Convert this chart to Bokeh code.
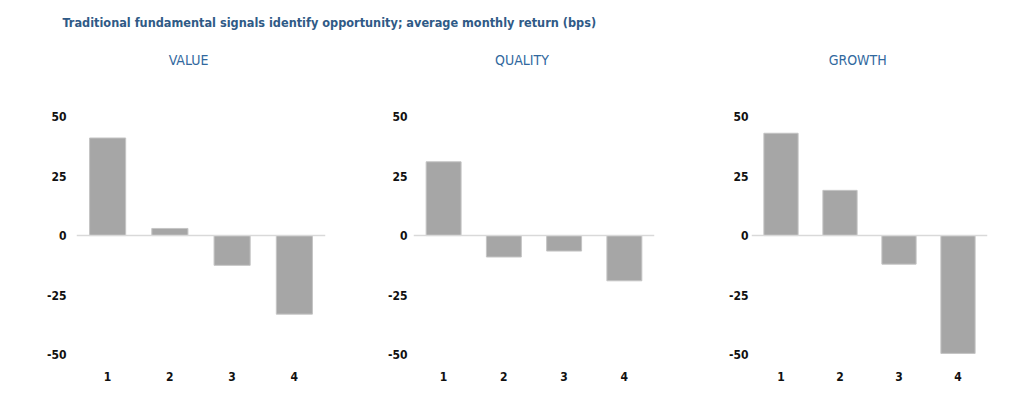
from bokeh.plotting import figure
from bokeh.layouts import row, column
from bokeh.models import Range1d, FixedTicker, Span, ColumnDataSource
from bokeh.core.properties import value
from bokeh.embed import file_html
from bokeh.resources import INLINE

# ---- data ----
main_title = "Traditional fundamental signals identify opportunity; average monthly return (bps)"
panel_titles = ["VALUE", "QUALITY", "GROWTH"]
categories = ["1", "2", "3", "4"]
value_returns = [41, 3, -12.5, -33]
quality_returns = [31, -9, -6.5, -19]
growth_returns = [43, 19, -12, -49.5]
y_ticks = [-50, -25, 0, 25, 50]
y_tick_labels = ["-50", "-25", "0", "25", "50"]

FONT = "DejaVu Sans Condensed"
TITLE_BLUE = "#2f5a86"
PANEL_BLUE = "#31689e"
BAR_GRAY = "#a6a6a6"

# ---- title strip ----
tf = figure(width=1026, height=38, x_range=Range1d(0, 1026), y_range=Range1d(0, 38),
            toolbar_location=None, output_backend="svg", min_border=0,
            x_axis_location=None, y_axis_location=None)
tf.outline_line_color = None
tf.grid.visible = False
tf.text(x=[62], y=[16], text=[main_title], text_font=value(FONT),
        text_font_style="bold", text_font_size="12.6px", text_color=TITLE_BLUE,
        text_baseline="alphabetic", text_align="left")

# ---- panels ----
specs = [
    # width, left border, right border, standoff
    (348, 76, 23, 10),
    (350, 65, 44, 6),
    (328, 53, 39, 3),
]
series = [value_returns, quality_returns, growth_returns]

figs = []
for (w, bl, br, so), title, vals in zip(specs, panel_titles, series):
    xs = list(range(1, len(categories) + 1))
    src = ColumnDataSource(dict(x=xs, top=vals))
    p = figure(width=w, height=352, x_range=Range1d(0.5, 4.5), y_range=Range1d(-55, 78.6),
               toolbar_location=None, output_backend="svg",
               min_border_left=bl, min_border_right=br, min_border_top=10, min_border_bottom=24)
    p.outline_line_color = None
    p.grid.visible = False
    p.add_layout(Span(location=0, dimension="width", line_color="#d9d9d9", line_width=1.5))
    p.vbar(x="x", top="top", bottom=0, width=0.58, source=src,
           fill_color=BAR_GRAY, line_color="#c4c4c4", line_width=1)
    p.text(x=[2.3], y=[73.9], text=[title], text_font=value(FONT),
           text_font_size="14px", text_color=PANEL_BLUE, text_align="center",
           text_baseline="middle")

    for ax in (p.yaxis, p.xaxis):
        ax.axis_line_color = None
        ax.major_tick_line_color = None
        ax.minor_tick_line_color = None
        ax.major_tick_out = 0
        ax.major_label_text_font = FONT
        ax.major_label_text_font_style = "bold"
        ax.major_label_text_font_size = "12px"
        ax.major_label_text_color = "#111111"
    p.yaxis.ticker = FixedTicker(ticks=y_ticks)
    p.yaxis.major_label_overrides = {t: s for t, s in zip(y_ticks, y_tick_labels)}
    p.yaxis.major_label_standoff = so
    p.xaxis.ticker = FixedTicker(ticks=xs)
    p.xaxis.major_label_overrides = {x: c for x, c in zip(xs, categories)}
    p.xaxis.major_label_standoff = 5
    figs.append(p)

layout = column(tf, row(*figs))
open("out.html", "w").write(file_html(layout, INLINE))
